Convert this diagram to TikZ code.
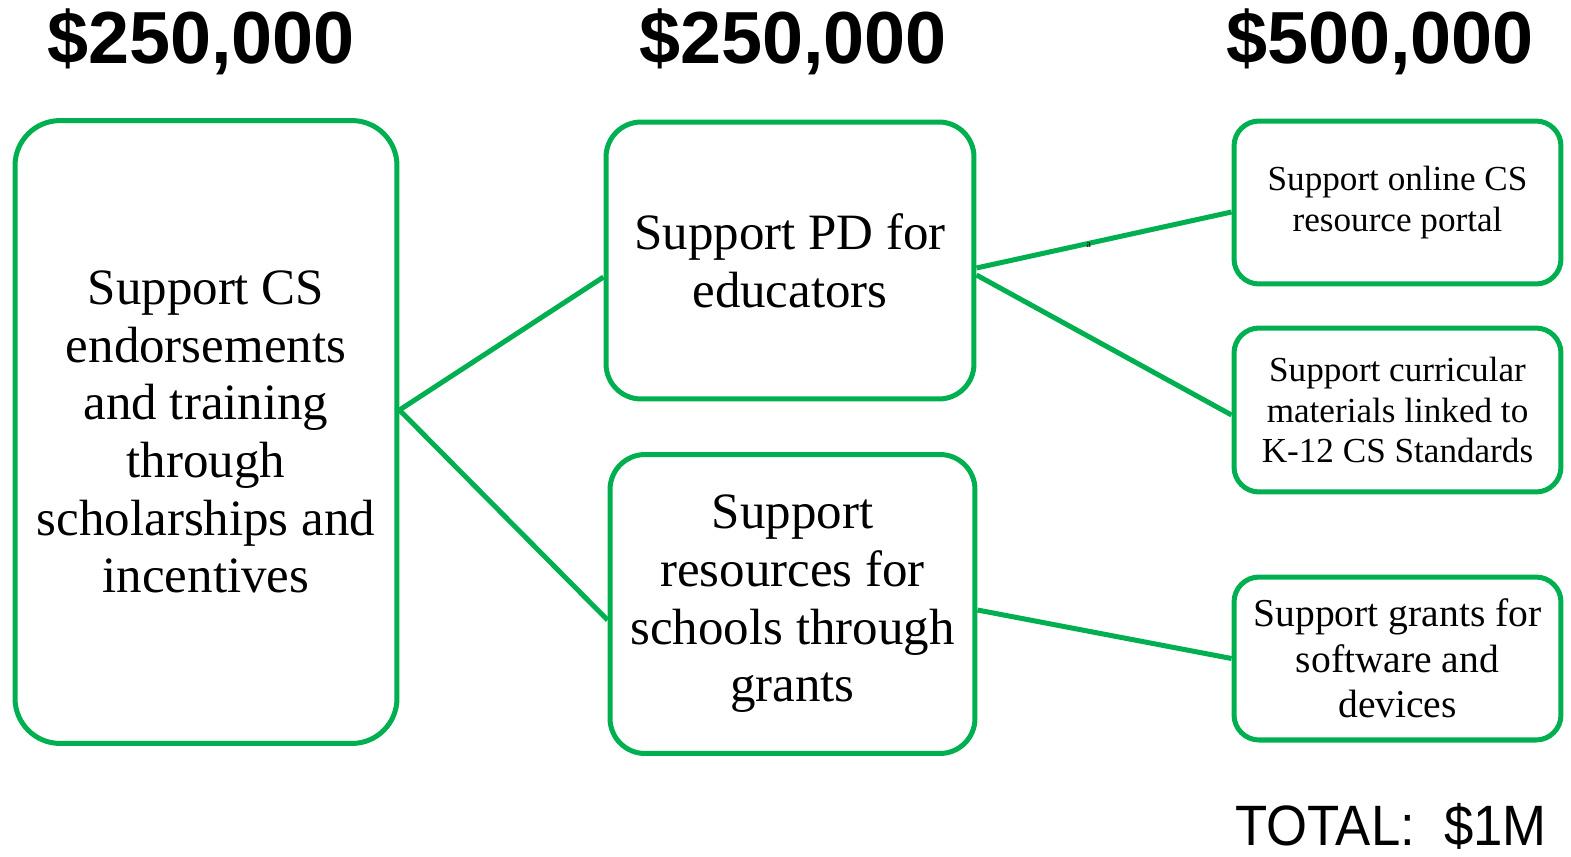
\documentclass[tikz,border=0pt]{standalone}
\usepackage{fontspec}
\setmainfont{Liberation Serif}
\newfontfamily\headfont{Liberation Sans}
\definecolor{boxgreen}{HTML}{00B050}

\begin{document}
\begin{tikzpicture}[x=0.02cm,y=-0.02cm,
	box/.style={draw=boxgreen,line width=2.85pt,rounded corners=#1,align=center,inner sep=0pt},
	box/.default=0.6cm,
	bigtext/.style={font=\fontsize{29}{32.8}\selectfont},
	smalltext/.style={font=\fontsize{20}{23}\selectfont},
	link/.style={draw=boxgreen,line width=2.85pt},
	amount/.style={font=\headfont\bfseries\fontsize{42}{48}\selectfont}]
\useasboundingbox (0,0) rectangle (1571,856);

% amounts
\node[amount] (amtA) at (201,42) {\$250,000};
\node[amount] (amtB) at (793,42) {\$250,000};
\node[amount] (amtC) at (1380,42) {\$500,000};

% left column
\node[box=0.9cm,bigtext,minimum width=7.64cm,minimum height=12.46cm] (endorse) at (206,432)
	{Support CS\\endorsements\\and training\\through\\scholarships and\\incentives};

% middle column
\node[box=0.7cm,bigtext,minimum width=7.36cm,minimum height=5.54cm] (pd) at (790,260.5)
	{Support PD for\\educators};
\node[box=0.7cm,bigtext,minimum width=7.3cm,minimum height=5.98cm] (schools) at (792.5,604)
	{Support\\resources for\\schools through\\grants};

% right column
\node[box=0.5cm,smalltext,minimum width=6.54cm,minimum height=3.26cm] (portal) at (1397.5,202.5)
	{Support online CS\\resource portal};
\node[box=0.5cm,smalltext,minimum width=6.54cm,minimum height=3.28cm] (curric) at (1397.5,410)
	{Support curricular\\materials linked to\\K-12 CS Standards};
\node[box=0.5cm,font=\fontsize{22.5}{26}\selectfont,minimum width=6.54cm,minimum height=3.26cm] (devices) at (1397.5,658.5)
	{Support grants for\\software and\\devices};

% connectors
\draw[link] ([yshift=0.44cm]endorse.east) -- ([yshift=-0.33cm]pd.west);
\draw[link] ([yshift=0.44cm]endorse.east) -- ([yshift=-0.32cm]schools.west);
\draw[link] ([yshift=-0.15cm]pd.east) -- ([yshift=-0.19cm]portal.west)
	node[pos=0.44,inner sep=0pt,yshift=-1pt,font=\fontsize{6}{7}\selectfont] (mark) {a};
\draw[link] ([yshift=-0.29cm]pd.east) -- ([yshift=-0.1cm]curric.west);
\draw[link] ([yshift=-0.12cm]schools.east) -- (devices.west);

% total
\node[font=\headfont\fontsize{30}{36}\selectfont,yscale=1.08] (total) at (1391,826) {TOTAL:~~\$1M};

\end{tikzpicture}
\end{document}
